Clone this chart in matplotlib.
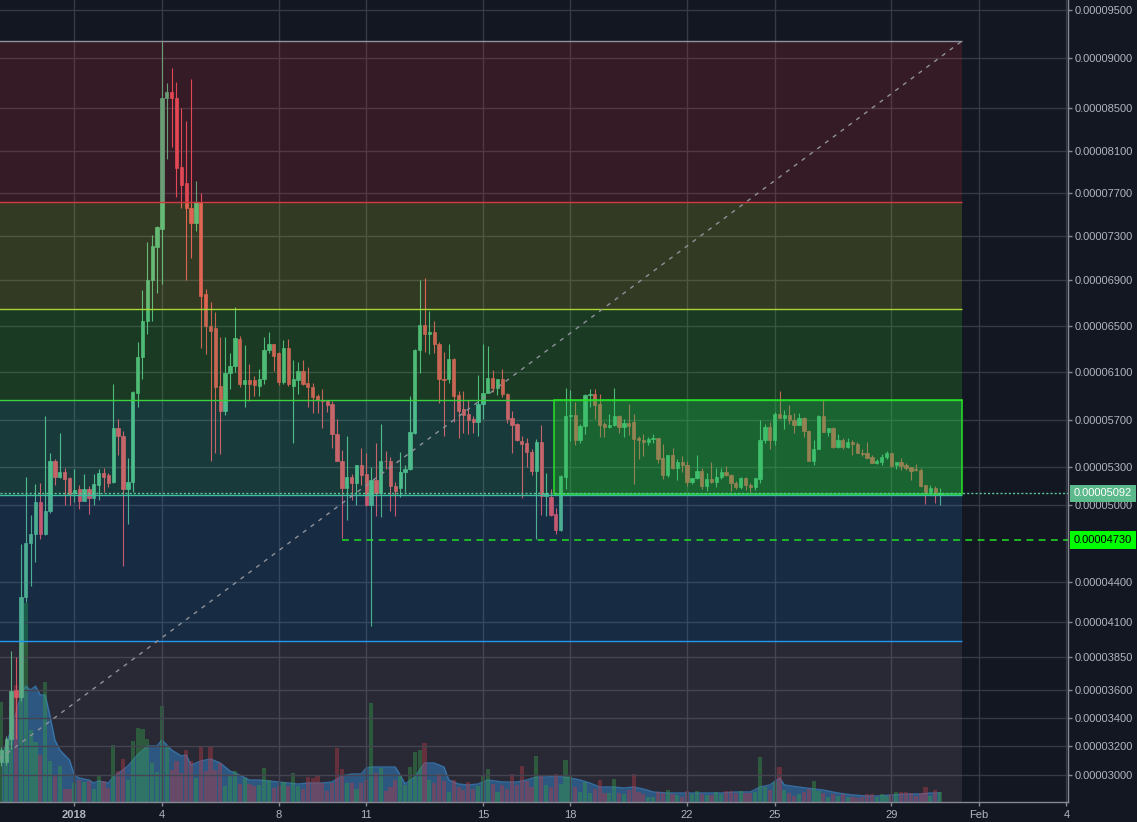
import numpy as np
import pandas as pd
import matplotlib
matplotlib.use('Agg')
from matplotlib import pyplot as plt
import matplotlib.dates as mdates
from matplotlib.patches import Rectangle
from matplotlib.ticker import FixedLocator, FuncFormatter
from matplotlib.transforms import blended_transform_factory

plt.rcParams['font.family'] = ['Liberation Sans', 'DejaVu Sans']

# 4h candles, prices in satoshi (1e-8 BTC)
opens = [
    3090, 3090, 3250, 3600, 3550, 4290, 4710, 4780, 5020, 4780,
    4950, 5350, 5220, 5260, 5210, 5095, 5125, 5030, 5125, 5055,
    5160, 5250, 5235, 5180, 5630, 5560, 5130, 5180, 5925, 6230,
    6545, 6900, 7200, 7365, 8600, 8660, 8600, 7950, 7795, 7560,
    7420, 7615, 6780, 6500, 6480, 5980, 5775, 6090, 6150, 6390,
    6000, 6035, 6035, 5985, 6040, 6290, 6345, 6265, 6015, 6310,
    5985, 6035, 6110, 6010, 5975, 5900, 5865, 5865, 5835, 5585,
    5355, 5135, 5220, 5175, 5315, 5245, 5000, 5195, 5095, 5355,
    5355, 5150, 5135, 5260, 5285, 5590, 6290, 6510, 6430, 6450,
    6345, 6040, 6040, 6210, 5910, 5790, 5750, 5710, 5685, 5835,
    5925, 6050, 5965, 6040, 5915, 5715, 5665, 5520, 5505, 5430,
    5270, 5515, 5070, 5065, 4930, 4810, 5225, 5735, 5745, 5530,
    5650, 5910, 5915, 5835, 5665, 5640, 5660, 5735, 5640, 5675,
    5685, 5545, 5530, 5515, 5540, 5545, 5375, 5235, 5400, 5290,
    5340, 5320, 5180, 5210, 5270, 5150, 5205, 5180, 5225, 5260,
    5235, 5175, 5140, 5210, 5160, 5145, 5205, 5530, 5640, 5530,
    5750, 5715, 5745, 5700, 5660, 5715, 5610, 5355, 5455, 5735,
    5600, 5630, 5470, 5530, 5470, 5515, 5500, 5420, 5420, 5385,
    5335, 5345, 5385, 5420, 5315, 5340, 5315, 5300, 5285, 5280,
    5155, 5100, 5135, 5080]
highs = [
    3190, 3270, 3890, 3850, 4700, 5220, 4920, 5165, 5170, 5730,
    5420, 5370, 5590, 5290, 5220, 5285, 5160, 5245, 5150, 5245,
    5285, 5290, 5250, 6000, 5710, 5610, 5380, 5940, 6360, 6810,
    7245, 7310, 7390, 9180, 8750, 8900, 8760, 8500, 8380, 8790,
    7810, 7700, 6820, 6710, 6620, 6400, 6400, 6265, 6665, 6415,
    6335, 6170, 6065, 6125, 6400, 6450, 6345, 6275, 6380, 6390,
    6200, 6185, 6200, 6140, 6010, 5915, 5955, 5870, 5860, 5710,
    5445, 5560, 5245, 5320, 5460, 5420, 5300, 5505, 5665, 5440,
    5385, 5180, 5430, 5315, 5900, 6300, 6900, 6915, 6630, 6545,
    6360, 6275, 6345, 6220, 5940, 5940, 5870, 5735, 6075, 6340,
    6330, 6115, 6045, 6125, 5925, 5775, 5675, 5565, 5550, 5450,
    5540, 5660, 5250, 5130, 4980, 5240, 5965, 5950, 5850, 5665,
    5915, 5960, 5960, 5915, 5685, 5750, 5965, 5740, 5710, 5835,
    5750, 5565, 5580, 5555, 5580, 5550, 5500, 5405, 5460, 5370,
    5390, 5350, 5215, 5400, 5290, 5250, 5340, 5290, 5290, 5310,
    5245, 5190, 5220, 5220, 5170, 5215, 5700, 5665, 5685, 5765,
    5940, 5785, 5825, 5760, 5760, 5725, 5615, 5530, 5740, 5870,
    5635, 5640, 5580, 5545, 5545, 5530, 5510, 5450, 5515, 5400,
    5365, 5410, 5435, 5420, 5345, 5380, 5330, 5300, 5325, 5290,
    5160, 5160, 5150, 5135]
lows = [
    3060, 3070, 3180, 3250, 3520, 4250, 4370, 4560, 4740, 4770,
    4940, 5160, 5210, 5000, 5000, 5020, 4970, 5030, 4930, 5000,
    5040, 5100, 5140, 5170, 5400, 4526, 4850, 5100, 5810, 6040,
    6430, 6545, 6790, 6865, 8020, 8140, 7660, 7560, 6900, 7100,
    7345, 6310, 6255, 5350, 5420, 5410, 5740, 5960, 6100, 5975,
    5810, 5860, 5900, 5900, 6000, 6265, 6110, 5990, 6000, 5985,
    5505, 5920, 5990, 5810, 5760, 5760, 5635, 5770, 5460, 5350,
    4745, 4885, 5040, 5000, 5160, 4990, 4070, 4915, 4910, 5285,
    4950, 4915, 5060, 5100, 5280, 5580, 6090, 6275, 6255, 6265,
    5840, 5565, 6010, 5685, 5550, 5590, 5580, 5590, 5565, 5710,
    5925, 5930, 5910, 5890, 5675, 5420, 5525, 5055, 5300, 5235,
    4740, 4920, 4915, 4915, 4775, 4800, 5130, 5520, 5485, 5505,
    5585, 5810, 5710, 5555, 5555, 5630, 5650, 5590, 5555, 5570,
    5165, 5370, 5390, 5490, 5505, 5335, 5205, 5225, 5285, 5195,
    5260, 5150, 5165, 5205, 5125, 5110, 5175, 5140, 5205, 5230,
    5110, 5130, 5125, 5120, 5100, 5115, 5170, 5505, 5450, 5485,
    5715, 5625, 5665, 5590, 5655, 5555, 5350, 5315, 5450, 5595,
    5565, 5460, 5465, 5455, 5465, 5400, 5415, 5390, 5375, 5330,
    5325, 5315, 5365, 5300, 5285, 5275, 5275, 5195, 5270, 5145,
    5010, 5080, 5015, 5000]
closes = [
    3170, 3250, 3590, 3550, 4290, 4710, 4780, 5020, 4780, 4950,
    5350, 5220, 5260, 5205, 5090, 5120, 5030, 5125, 5055, 5165,
    5250, 5220, 5170, 5630, 5560, 5130, 5180, 5930, 6230, 6545,
    6900, 7210, 7385, 8600, 8660, 8600, 7940, 7775, 7560, 7420,
    7615, 6760, 6500, 6460, 5975, 5775, 6090, 6150, 6395, 6000,
    6035, 6000, 5990, 6040, 6290, 6345, 6240, 6015, 6310, 6000,
    6040, 6110, 6000, 5975, 5890, 5865, 5860, 5825, 5580, 5355,
    5135, 5220, 5175, 5315, 5240, 5000, 5195, 5095, 5355, 5350,
    5150, 5110, 5260, 5285, 5595, 6290, 6510, 6430, 6450, 6340,
    6040, 6035, 6210, 5900, 5775, 5740, 5700, 5685, 5835, 5925,
    6050, 5965, 6040, 5915, 5710, 5660, 5530, 5500, 5425, 5270,
    5515, 5070, 5095, 4920, 4810, 5230, 5735, 5745, 5530, 5650,
    5910, 5915, 5825, 5660, 5640, 5660, 5735, 5640, 5675, 5650,
    5540, 5530, 5515, 5540, 5545, 5370, 5235, 5400, 5290, 5340,
    5315, 5180, 5210, 5270, 5150, 5205, 5180, 5225, 5260, 5235,
    5170, 5140, 5210, 5160, 5145, 5210, 5530, 5640, 5530, 5750,
    5715, 5745, 5700, 5660, 5715, 5610, 5355, 5455, 5735, 5600,
    5630, 5470, 5530, 5470, 5515, 5495, 5420, 5410, 5380, 5335,
    5355, 5385, 5420, 5310, 5340, 5310, 5290, 5270, 5280, 5150,
    5100, 5135, 5080, 5092]
volumes = [
    100, 55, 95, 117, 160, 199, 72, 60, 47, 120,
    41, 26, 36, 13, 13, 19, 22, 20, 21, 13,
    26, 21, 14, 57, 31, 43, 22, 61, 74, 73,
    63, 39, 30, 96, 56, 32, 41, 29, 52, 41,
    24, 56, 31, 56, 32, 39, 16, 27, 31, 18,
    24, 18, 16, 17, 34, 22, 14, 16, 20, 16,
    29, 16, 13, 25, 24, 26, 19, 11, 19, 54,
    33, 19, 19, 13, 19, 22, 99, 29, 34, 11,
    15, 22, 27, 17, 35, 50, 52, 59, 22, 19,
    28, 21, 10, 22, 15, 12, 20, 13, 16, 27,
    33, 18, 10, 17, 13, 28, 17, 36, 21, 15,
    46, 27, 17, 15, 28, 18, 42, 26, 15, 10,
    20, 9, 13, 22, 9, 9, 23, 9, 8, 12,
    28, 10, 8, 5, 5, 10, 9, 12, 8, 7,
    5, 11, 8, 11, 8, 7, 7, 10, 8, 11,
    11, 9, 11, 9, 9, 10, 45, 15, 12, 20,
    35, 12, 9, 6, 8, 10, 13, 21, 11, 9,
    5, 8, 6, 8, 5, 5, 4, 5, 8, 8,
    5, 8, 6, 8, 10, 10, 10, 9, 6, 9,
    15, 6, 12, 10]
# volume moving average, read at these candle indices
vol_ma_idx = [0, 2, 4, 5, 6, 7, 8, 9, 10, 11, 12, 14, 15, 16, 18, 19, 20, 22, 23, 25,
              26, 28, 30, 32, 33, 35, 37, 38, 39, 41, 43, 45, 47, 49, 51, 53, 55, 57, 59, 61,
              63, 66, 68, 70, 72, 74, 75, 76, 78, 81, 82, 83, 85, 87, 89, 91, 92, 94, 96, 98,
              100, 103, 106, 108, 110, 112, 114, 117, 119, 121, 123, 126, 128, 130, 132, 134, 137, 140, 143, 145,
              148, 151, 154, 156, 158, 160, 161, 164, 167, 169, 172, 175, 178, 180, 183, 186, 189, 191, 193]
vol_ma = [45, 72, 106, 116, 112, 116, 107, 107, 86, 62, 52, 42, 27, 24, 22, 19, 21, 19, 25, 32,
          36, 47, 56, 56, 62, 52, 46, 47, 37, 41, 43, 39, 31, 27, 22, 22, 21, 20, 19, 18,
          19, 19, 20, 26, 28, 28, 34, 35, 35, 35, 27, 18, 25, 39, 39, 35, 22, 18, 17, 18,
          22, 20, 20, 22, 25, 25, 26, 24, 22, 19, 15, 15, 14, 15, 13, 10, 9, 9, 9, 9,
          9, 10, 10, 15, 17, 24, 17, 15, 13, 12, 9, 7, 6, 6, 7, 8, 8, 9, 9]

last_price = 5092
support = 4730
fib_high = 9180
fib_low = 2546
fib_levels = [0, 0.236, 0.382, 0.5, 0.618, 0.786, 1]
fib_line_colors = ['#8f929b', '#d23c40', '#a9d634', '#3dd13d', '#3dbfa0', '#2196f3', '#787b86']
fib_zone_colors = ['#c23036', '#b0c82c', '#3bcb31', '#36cba4', '#2c85c7', '#817681']
box_low = 5087

y_ticks = [3000, 3200, 3400, 3600, 3850, 4100, 4400, 5000, 5300, 5700,
           6100, 6500, 6900, 7300, 7700, 8100, 8500, 9000, 9500]
x_tick_dates = ['2018-01-01', '2018-01-04', '2018-01-08', '2018-01-11', '2018-01-15', '2018-01-18',
                '2018-01-22', '2018-01-25', '2018-01-29', '2018-02-01', '2018-02-04']
x_tick_labels = ['2018', '4', '8', '11', '15', '18', '22', '25', '29', 'Feb', '4']

# the price axis is neither linear nor log: knots of the screen mapping
scale_prices = [1000, 2819, 3000, 3200, 3400, 3600, 3850, 4100, 4400, 4730, 5000, 5300, 5700,
                6100, 6500, 6900, 7300, 7700, 8100, 8500, 9000, 9500, 9602, 20000]
scale_depth = [1073, 802, 775, 746, 718, 690, 657, 622, 582, 540, 505, 467, 420,
               372, 326, 280, 236, 193, 151, 108, 58, 10, 0, -998]
scale_pos = -np.array(scale_depth, dtype=float)

BG = '#131722'
GRID = '#363a45'
UP = '#53b987'
DOWN = '#eb4d5c'
TXT = '#b2b5be'
AXC = '#868993'

times = pd.date_range('2017-12-29 12:00', periods=len(closes), freq='4h')
x = mdates.date2num(times.to_pydatetime())
o, h, l, c = map(np.array, (opens, highs, lows, closes))
up = c >= o
cols = np.where(up, UP, DOWN)

fig = plt.figure(figsize=(11.37, 8.22), dpi=100, facecolor=BG)
rect = [0, 20 / 822, 1068 / 1137, 802 / 822]
ax = fig.add_axes(rect)
vax = fig.add_axes(rect, sharex=ax)
vax.set_zorder(0)
ax.set_zorder(1)
ax.patch.set_visible(False)
vax.set_facecolor(BG)

# volume pane (overlay at the bottom)
vcols = np.where(up, '#22a83c', '#c62c3c')
mx = x[vol_ma_idx]
vax.fill_between(mx, 0, vol_ma, color='#2196f3', alpha=0.45, lw=0, zorder=1)
vax.plot(mx, vol_ma, color='#2a8ad8', lw=1, alpha=0.7, zorder=1.1)
vax.bar(x, volumes, width=0.85 / 6, color=vcols, alpha=0.42, lw=0, zorder=2)
vax.set_ylim(0, 802)
vax.tick_params(left=False, bottom=False, labelleft=False, labelbottom=False)
for s in vax.spines.values():
    s.set_visible(False)


def fwd(v):
    return np.interp(v, scale_prices, scale_pos)


def inv(v):
    return np.interp(v, scale_pos, scale_prices)


ax.set_yscale('function', functions=(fwd, inv))
ax.set_ylim(2819, 9602)
xmin = mdates.date2num(pd.Timestamp('2017-12-29 10:50'))
xmax = mdates.date2num(pd.Timestamp('2018-02-04 01:15'))
ax.set_xlim(xmin, xmax)

# candles
ax.vlines(x, l, h, colors=cols, lw=0.8, zorder=2)
ax.bar(x, np.abs(c - o), bottom=np.minimum(o, c), width=0.68 / 6,
       color=cols, edgecolor=cols, lw=0.5, zorder=2.1)

# fib retracement
fx0 = mdates.date2num(pd.Timestamp('2017-12-25 14:00'))
fx1 = mdates.date2num(pd.Timestamp('2018-01-31 10:20'))
levels = [fib_high - (fib_high - fib_low) * f for f in fib_levels]
for k in range(len(levels) - 1):
    ax.add_patch(Rectangle((fx0, levels[k + 1]), fx1 - fx0, levels[k] - levels[k + 1],
                           facecolor=fib_zone_colors[k], alpha=0.2, lw=0, zorder=3))
for lv, lc in zip(levels, fib_line_colors):
    ax.hlines(lv, fx0, fx1, color=lc, lw=1, zorder=4)
ax.plot([fx0, fx1], [fib_low, fib_high], color='#8f929b', lw=1, ls=(0, (3, 4)), zorder=4)

# range box
box_high = levels[3]
bx0 = mdates.date2num(pd.Timestamp('2018-01-17 10:30'))
ax.add_patch(Rectangle((bx0, box_low), fx1 - bx0, box_high - box_low,
                       facecolor=(0.12, 0.78, 0.12, 0.3), edgecolor='#27e327', lw=1.1, zorder=4))

# price lines
sx0 = x[70]
ax.hlines(support, sx0, xmax, color='#22e022', lw=1.1, ls=(0, (4.5, 3.5)), zorder=5)
ax.axhline(last_price, color='#5cc59a', lw=1, ls=(0, (1.5, 1.5)), zorder=5)

trans = blended_transform_factory(ax.transAxes, ax.transData)
ax.text(1 + 6 / 1068, last_price, f'{last_price / 1e8:.8f}', transform=trans, ha='left', va='center',
        color='white', fontsize=8, clip_on=False, zorder=10,
        bbox=dict(boxstyle='square,pad=0.32', fc='#5bb98b', ec='none'))
ax.text(1 + 6 / 1068, support, f'{support / 1e8:.8f}', transform=trans, ha='left', va='center',
        color='black', fontsize=8, clip_on=False, zorder=10,
        bbox=dict(boxstyle='square,pad=0.32', fc='#00ff00', ec='none'))

# axes
ax.yaxis.tick_right()
ax.yaxis.set_major_locator(FixedLocator(y_ticks))
ax.yaxis.set_minor_locator(FixedLocator([]))
ax.yaxis.set_major_formatter(FuncFormatter(lambda v, p: f'{v / 1e8:.8f}'))
tick_x = mdates.date2num([pd.Timestamp(d) for d in x_tick_dates])
ax.set_xticks(tick_x)
ax.set_xticklabels(x_tick_labels)
ax.get_xticklabels()[0].set_fontweight('bold')
ax.tick_params(axis='both', colors=AXC, labelcolor=TXT, labelsize=8, length=3, width=1)
ax.tick_params(axis='y', pad=2)
ax.tick_params(axis='x', pad=3)
ax.grid(True, color=GRID, lw=1)
ax.set_axisbelow(True)
for side in ('top', 'left'):
    ax.spines[side].set_visible(False)
for side in ('right', 'bottom'):
    ax.spines[side].set_color(AXC)
    ax.spines[side].set_linewidth(1)

fig.savefig('out.png', dpi=100, facecolor=BG)
